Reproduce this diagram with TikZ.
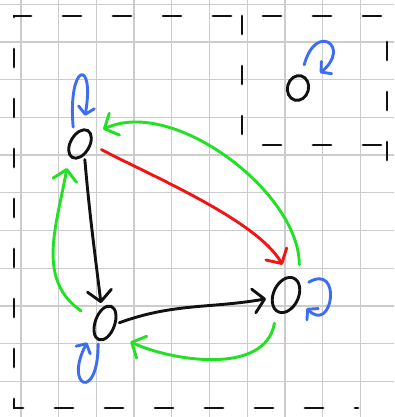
\documentclass[tikz,border=0pt]{standalone}
\usepackage{xcolor}
\usepackage{tikz}
\usetikzlibrary{arrows.meta,shapes.geometric}
\definecolor{ink}{HTML}{111111}
\definecolor{penred}{HTML}{F01414}
\definecolor{pengreen}{HTML}{22E022}
\definecolor{penblue}{HTML}{3D6EF2}
\definecolor{gridgray}{HTML}{CCCCCC}
\tikzset{
  state/.style={ellipse,draw=ink,line width=2.9pt,inner sep=0pt},
  arrow/.style={line width=2.9pt,line cap=round,-{Straight Barb[length=11pt,width=24pt,round]}},
  loopy/.style={line width=2.9pt,line cap=round,draw=penblue,-{Straight Barb[length=7pt,width=16pt,round]}},
  border/.style={line width=2.9pt,line cap=round,draw=ink,dash pattern=on 18pt off 32pt},
  gridline/.style={line width=1.3pt,draw=gridgray}
}
\begin{document}
\begin{tikzpicture}[x=1pt,y=1pt]
\useasboundingbox (0,0) rectangle (394,417);
\fill[white] (0,0) rectangle (394,417);
% squared paper
\foreach \i in {0,...,9} \draw[gridline] ({21+37.7*\i},0) -- ++(0,417);
\foreach \j in {0,...,10} \draw[gridline] (0,{35.7+37.7*\j}) -- ++(394,0);
% dashed outlines
\draw[border] (387,257) -- (387,401) -- (14,401) -- (14,9) -- (358,9);
\draw[border] (242,401) -- (242,272) -- (387,272);
% states
\node[state,minimum width=19pt,minimum height=31pt,rotate=-30] (A) at (80,273) {};
\node[state,minimum width=19.5pt,minimum height=35.5pt,rotate=-20] (B) at (105,94) {};
\node[state,minimum width=25pt,minimum height=37pt,rotate=-25] (C) at (286,122) {};
\node[state,minimum width=21pt,minimum height=25pt,rotate=-15] (D) at (298,329) {};
% transitions
\draw[arrow,ink,shorten <=4pt,shorten >=5pt] (A.-39) to[out=-85,in=97] (B.123);
\draw[arrow,ink,shorten <=3pt,shorten >=5pt] (B.16) to[out=20,in=190] (C.216);
\draw[arrow,penred,shorten <=11pt,shorten >=13pt] (A.28) to[out=-28,in=120,looseness=0.7] (C.106);
\draw[arrow,pengreen,shorten <=17pt,shorten >=12pt] (C.70) to[out=90,in=25,looseness=0.9] (A.68);
\draw[arrow,pengreen,shorten <=16pt,shorten >=12pt] (B.185) to[out=145,in=-100,looseness=1.1] (A.-102);
\draw[arrow,pengreen,shorten <=11pt,shorten >=20pt] (C.-94) to[out=-100,in=-25] (B.-35);
% self loops
\draw[loopy,shorten <=7pt,shorten >=13pt] (A.152) to[out=95,in=80,distance=72pt] (A.110);
\draw[loopy,shorten <=3pt,shorten >=12pt] (B.-91) to[out=-90,in=-118,distance=62pt] (B.-124);
\draw[loopy,shorten <=9pt,shorten >=11pt] (C.54) to[out=30,in=-45,distance=48pt] (C.2);
\draw[loopy,shorten <=10pt,shorten >=14pt] (D.90) to[out=75,in=40,distance=55pt] (D.43);
\end{tikzpicture}
\end{document}
